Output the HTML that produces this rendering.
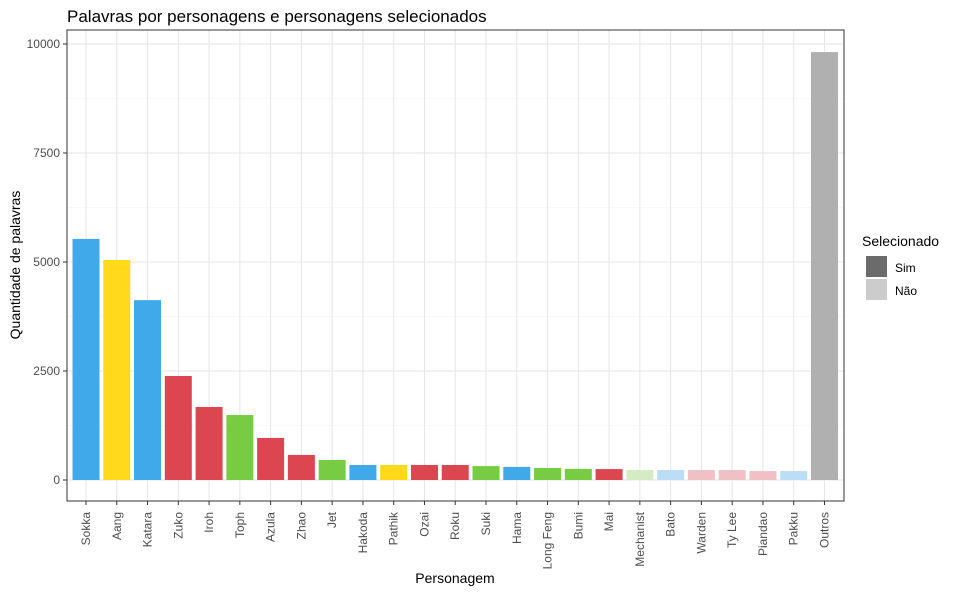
<!DOCTYPE html>
<html><head><meta charset="utf-8"><style>
body{margin:0;background:#fff;font-family:"Liberation Sans",Arial,sans-serif}
svg text{font-family:"Liberation Sans",Arial,sans-serif}
</style></head><body>
<svg id="chart" width="960" height="593">
<text x="67" y="22" font-size="17" fill="#000">Palavras por personagens e personagens selecionados</text>
<g id="grid"></g>
<g id="bars"></g>
<rect x="67" y="30" width="777" height="471" fill="none" stroke="#333" stroke-width="1"/>
<g id="axes"></g>
<text x="455" y="583" font-size="14" text-anchor="middle" fill="#000">Personagem</text>
<text transform="translate(20,265) rotate(-90)" font-size="14" text-anchor="middle" fill="#000">Quantidade de palavras</text>
<g>
<text x="862" y="246" font-size="14" fill="#000">Selecionado</text>
<rect x="866" y="256" width="21" height="21" fill="#6b6b6b"/>
<text x="895" y="272" font-size="12" fill="#000">Sim</text>
<rect x="866" y="279" width="21" height="21" fill="#cccccc"/>
<text x="895" y="295" font-size="12" fill="#000">Não</text>
</g>
</svg>
<script>
const categories=["Sokka","Aang","Katara","Zuko","Iroh","Toph","Azula","Zhao","Jet","Hakoda","Pathik","Ozai","Roku","Suki","Hama","Long Feng","Bumi","Mai","Mechanist","Bato","Warden","Ty Lee","Piandao","Pakku","Outros"];
const values=[5530,5045,4125,2385,1675,1490,965,575,460,345,345,345,345,320,300,275,255,250,230,228,228,228,205,205,9815];
const colors=["#3FA9EA","#FFD91A","#3FA9EA","#DB4651","#DB4651","#77CC44","#DB4651","#DB4651","#77CC44","#3FA9EA","#FFD91A","#DB4651","#DB4651","#77CC44","#3FA9EA","#77CC44","#77CC44","#DB4651","#D4EBC4","#BCDDF6","#F0C0C4","#F0C0C4","#F0C0C4","#BCDDF6","#B0B0B0"];
const yTicks=[0,2500,5000,7500,10000];
const ns="http://www.w3.org/2000/svg";
const X0=86,DX=30.77,BW=27;
function xs(i){return X0+i*DX;}
function ys(v){return 480-v*109/2500;}
const grid=document.getElementById('grid'),bars=document.getElementById('bars'),axes=document.getElementById('axes');
function mk(tag,attrs,parent){const e=document.createElementNS(ns,tag);for(const k in attrs)e.setAttribute(k,attrs[k]);parent.appendChild(e);return e;}
for(let t=0;t<yTicks.length;t++){
  const y=ys(yTicks[t]);
  const g=mk('line',{x1:67,x2:844,y1:y,y2:y,stroke:'#e6e6e6','stroke-width':1},grid);
  
  
  if(t<yTicks.length-1){const ym=ys((yTicks[t]+yTicks[t+1])/2);
    const m=mk('line',{x1:67,x2:844,y1:ym,y2:ym,stroke:'#f2f2f2','stroke-width':0.6},grid);
    
    }
  const tk=mk('line',{x1:63,x2:67,y1:y,y2:y,stroke:'#333'},axes);
  
  
  const lb=mk('text',{x:60,y:y+4,'font-size':12,'text-anchor':'end',fill:'#4d4d4d'},axes);
  lb.textContent=yTicks[t];
  
  
}
categories.forEach((c,i)=>{
  const x=xs(i);
  const g=mk('line',{x1:x,x2:x,y1:30,y2:501,stroke:'#e6e6e6','stroke-width':1},grid);
  
  
  const r=mk('rect',{x:x-BW/2,y:ys(values[i]),width:BW,height:ys(0)-ys(values[i]),fill:colors[i]},bars);
  
  
  const tk=mk('line',{x1:x,x2:x,y1:501,y2:505,stroke:'#333'},axes);
  
  
  const lb=mk('text',{transform:`translate(${x+4},512) rotate(-90)`,'font-size':12,'text-anchor':'end',fill:'#4d4d4d'},axes);
  lb.textContent=c;
  
  
});
</script>
</body></html>
